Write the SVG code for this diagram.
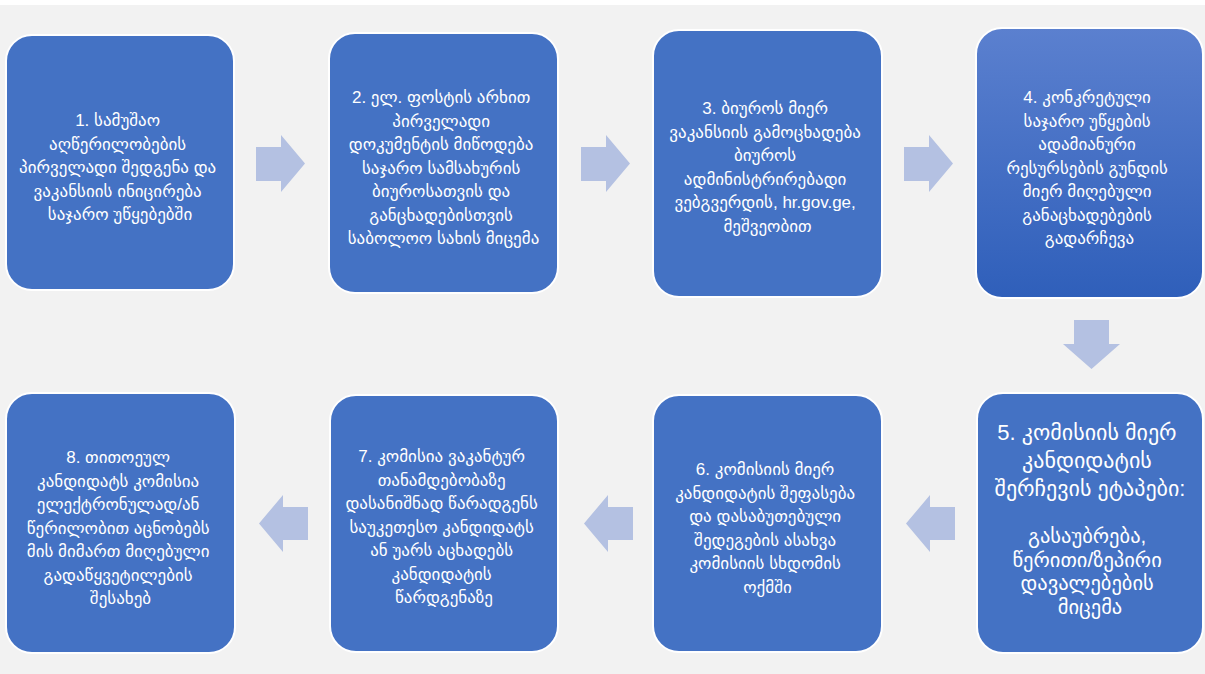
<svg xmlns="http://www.w3.org/2000/svg" width="1205" height="674" viewBox="0 0 1205 674">
  <defs>
    <linearGradient id="gradStep4" x1="0" y1="0" x2="0" y2="1">
      <stop offset="0" stop-color="#5b80cf"/>
      <stop offset="1" stop-color="#2f5fba"/>
    </linearGradient>
    <style>
      .box { fill: #4472c4; stroke: #ffffff; stroke-width: 2; }
      .box-grad { fill: url(#gradStep4); stroke: #ffffff; stroke-width: 2; }
      .label { fill: #ffffff; font-family: "Liberation Sans", "DejaVu Sans", sans-serif; font-size: 17px; text-anchor: middle; }
      .label-lg { fill: #ffffff; font-family: "Liberation Sans", "DejaVu Sans", sans-serif; font-size: 22px; text-anchor: middle; }
      .label-md { fill: #ffffff; font-family: "Liberation Sans", "DejaVu Sans", sans-serif; font-size: 20.5px; text-anchor: middle; }
      .arrow { fill: #b4c1e2; }
    </style>
  </defs>

  <!-- canvas -->
  <rect x="0" y="0" width="1205" height="674" fill="#ffffff"/>
  <rect x="0" y="5" width="1205" height="669" fill="#f2f2f2"/>

  <!-- connectors: block arrows between steps -->
  <g id="connectors">
    <polygon class="arrow" points="256,147 281,147 281,135 305,163.5 281,192 281,181 256,181"/>
    <polygon class="arrow" points="581,147 606,147 606,135 630,163.5 606,192 606,181 581,181"/>
    <polygon class="arrow" points="904,147 929,147 929,135 953,163.5 929,192 929,181 904,181"/>
    <polygon class="arrow" points="1074,320 1109,320 1109,344 1120,344 1091.5,369 1063,344 1074,344"/>
    <polygon class="arrow" points="955,507 930,507 930,495 906,523.5 930,552 930,540 955,540"/>
    <polygon class="arrow" points="633,507 608,507 608,495 584,523.5 608,552 608,540 633,540"/>
    <polygon class="arrow" points="308,507 283,507 283,495 259,523.5 283,552 283,540 308,540"/>
  </g>

  <!-- step 1 -->
  <g id="step1">
    <rect class="box" x="6" y="35" width="228" height="255" rx="26"/>
    <text class="label">
      <tspan x="120" y="126">1. სამუშაო</tspan>
      <tspan x="120" y="149.5">აღწერილობების</tspan>
      <tspan x="120" y="173">პირველადი შედგენა და</tspan>
      <tspan x="120" y="196.5">ვაკანსიის ინიცირება</tspan>
      <tspan x="120" y="220">საჯარო უწყებებში</tspan>
    </text>
  </g>

  <!-- step 2 -->
  <g id="step2">
    <rect class="box" x="329" y="33" width="229" height="260" rx="26"/>
    <text class="label">
      <tspan x="443.5" y="103">2. ელ. ფოსტის არხით</tspan>
      <tspan x="443.5" y="126.5">პირველადი</tspan>
      <tspan x="443.5" y="150">დოკუმენტის მიწოდება</tspan>
      <tspan x="443.5" y="173.5">საჯარო სამსახურის</tspan>
      <tspan x="443.5" y="197">ბიუროსათვის და</tspan>
      <tspan x="443.5" y="220.5">განცხადებისთვის</tspan>
      <tspan x="443.5" y="244">საბოლოო სახის მიცემა</tspan>
    </text>
  </g>

  <!-- step 3 -->
  <g id="step3">
    <rect class="box" x="653" y="30" width="229" height="267" rx="26"/>
    <text class="label">
      <tspan x="767.5" y="114">3. ბიუროს მიერ</tspan>
      <tspan x="767.5" y="137.5">ვაკანსიის გამოცხადება</tspan>
      <tspan x="767.5" y="161">ბიუროს</tspan>
      <tspan x="767.5" y="184.5">ადმინისტრირებადი</tspan>
      <tspan x="767.5" y="208">ვებგვერდის, hr.gov.ge,</tspan>
      <tspan x="767.5" y="231.5">მეშვეობით</tspan>
    </text>
  </g>

  <!-- step 4 -->
  <g id="step4">
    <rect class="box-grad" x="976" y="28" width="227" height="270" rx="26"/>
    <text class="label">
      <tspan x="1089.5" y="103">4. კონკრეტული</tspan>
      <tspan x="1089.5" y="126.5">საჯარო უწყების</tspan>
      <tspan x="1089.5" y="150">ადამიანური</tspan>
      <tspan x="1089.5" y="173.5">რესურსების გუნდის</tspan>
      <tspan x="1089.5" y="197">მიერ მიღებული</tspan>
      <tspan x="1089.5" y="220.5">განაცხადებების</tspan>
      <tspan x="1089.5" y="244">გადარჩევა</tspan>
    </text>
  </g>

  <!-- step 5 -->
  <g id="step5">
    <rect class="box" x="977" y="393" width="226" height="260" rx="26"/>
    <text class="label-lg">
      <tspan x="1090" y="440">5. კომისიის მიერ</tspan>
      <tspan x="1090" y="468">კანდიდატის</tspan>
      <tspan x="1090" y="496">შერჩევის ეტაპები:</tspan>
    </text>
    <text class="label-md">
      <tspan x="1090" y="543">გასაუბრება,</tspan>
      <tspan x="1090" y="566.5">წერითი/ზეპირი</tspan>
      <tspan x="1090" y="590">დავალებების</tspan>
      <tspan x="1090" y="614">მიცემა</tspan>
    </text>
  </g>

  <!-- step 6 -->
  <g id="step6">
    <rect class="box" x="653" y="395" width="229" height="257" rx="26"/>
    <text class="label">
      <tspan x="767.5" y="475">6. კომისიის მიერ</tspan>
      <tspan x="767.5" y="498.5">კანდიდატის შეფასება</tspan>
      <tspan x="767.5" y="522">და დასაბუთებული</tspan>
      <tspan x="767.5" y="545.5">შედეგების ასახვა</tspan>
      <tspan x="767.5" y="569">კომისიის სხდომის</tspan>
      <tspan x="767.5" y="592.5">ოქმში</tspan>
    </text>
  </g>

  <!-- step 7 -->
  <g id="step7">
    <rect class="box" x="330" y="395" width="228" height="257" rx="26"/>
    <text class="label">
      <tspan x="444" y="462">7. კომისია ვაკანტურ</tspan>
      <tspan x="444" y="485.5">თანამდებობაზე</tspan>
      <tspan x="444" y="509">დასანიშნად წარადგენს</tspan>
      <tspan x="444" y="532.5">საუკეთესო კანდიდატს</tspan>
      <tspan x="444" y="556">ან უარს აცხადებს</tspan>
      <tspan x="444" y="579.5">კანდიდატის</tspan>
      <tspan x="444" y="603">წარდგენაზე</tspan>
    </text>
  </g>

  <!-- step 8 -->
  <g id="step8">
    <rect class="box" x="6" y="393" width="229" height="260" rx="26"/>
    <text class="label">
      <tspan x="120.5" y="463">8. თითოეულ</tspan>
      <tspan x="120.5" y="486.5">კანდიდატს კომისია</tspan>
      <tspan x="120.5" y="510">ელექტრონულად/ან</tspan>
      <tspan x="120.5" y="533.5">წერილობით აცნობებს</tspan>
      <tspan x="120.5" y="557">მის მიმართ მიღებული</tspan>
      <tspan x="120.5" y="580.5">გადაწყვეტილების</tspan>
      <tspan x="120.5" y="604">შესახებ</tspan>
    </text>
  </g>
</svg>
